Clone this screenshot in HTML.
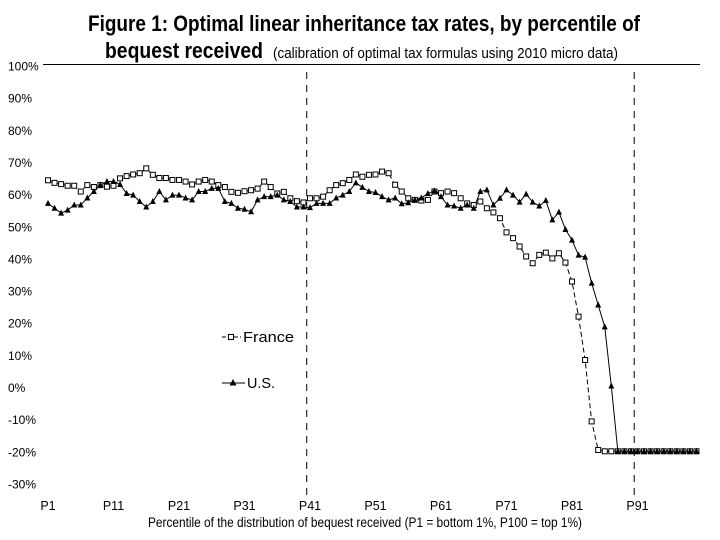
<!DOCTYPE html>
<html><head><meta charset="utf-8"><style>
html,body{margin:0;padding:0;background:#fff;}
svg{display:block;font-family:"Liberation Sans",Arial,sans-serif;}
</style></head><body>
<svg id="chart" width="720" height="540" viewBox="0 0 720 540" xmlns="http://www.w3.org/2000/svg">
<text x="88" y="31" font-size="22" font-weight="bold" textLength="552" lengthAdjust="spacingAndGlyphs">Figure 1: Optimal linear inheritance tax rates, by percentile of</text>
<text x="105" y="58" font-size="22" font-weight="bold" textLength="158" lengthAdjust="spacingAndGlyphs">bequest received</text>
<text x="273" y="58" font-size="15" textLength="345" lengthAdjust="spacingAndGlyphs">(calibration of optimal tax formulas using 2010 micro data)</text>
<line x1="43" y1="64.5" x2="700" y2="64.5" stroke="#000" stroke-width="1"/>
<g id="yticks"></g><g id="xticks"></g><g id="vlines"></g><g id="series"></g>
<text x="148" y="527" font-size="13.5" textLength="434" lengthAdjust="spacingAndGlyphs">Percentile of the distribution of bequest received (P1 = bottom 1%, P100 = top 1%)</text>
<g>
  <g>
    <line x1="222" y1="337" x2="241" y2="337" stroke="#000" stroke-dasharray="4,2"/>
    <rect x="228.5" y="334.5" width="5" height="5" fill="#fff" stroke="#000"/>
    <text x="243" y="342" font-size="15" textLength="51" lengthAdjust="spacingAndGlyphs">France</text>
  </g>
  <g>
    <line x1="222" y1="383" x2="245" y2="383" stroke="#000"/>
    <polygon points="233,379 236.5,385.5 229.5,385.5" fill="#000"/>
    <text x="247" y="388" font-size="15" textLength="28" lengthAdjust="spacingAndGlyphs">U.S.</text>
  </g>
</g>
</svg>
<script>
const yTicks=[100,90,80,70,60,50,40,30,20,10,0,-10,-20,-30];
const xTickLabels=["P1","P11","P21","P31","P41","P51","P61","P71","P81","P91"];
const xTickPercentiles=[1,11,21,31,41,51,61,71,81,91];
const dividerPercentiles=[40.5,90.5];
const france=[64.3,63.5,63.1,62.6,62.6,60.8,62.8,62.2,62.8,62.3,62.6,64.9,65.6,66.1,66.5,68,66,65,65,64.4,64.4,63.9,63,63.9,64.4,63.9,62.8,62.2,60.7,60.4,60.9,61.2,61.7,63.9,62.2,60.2,60.7,58.7,57.8,57.4,58.7,58.7,59.2,61.2,62.8,63.4,64.4,66.1,65.4,66,66.1,67,66.5,62.9,60.8,58.7,58.2,58,58.2,60.8,60.3,60.8,60.3,58.7,57.1,56.6,57.7,55.6,54.3,52.5,48.1,46.3,43.7,40.6,38.5,41.1,41.8,40,41.6,38.7,32.8,21.9,8.4,-10.7,-19.6,-20,-20,-20,-20,-20,-20,-20,-20,-20,-20,-20,-20,-20,-20,-20];
const us=[57.1,55.6,54.1,55,56.6,56.6,58.8,60.8,62.8,63.9,63.9,63,60.2,59.7,57.7,56,57.7,60.8,58.2,59.7,59.7,58.8,58.2,60.8,60.8,61.8,61.8,57.7,57.1,55.6,55.3,54.5,58.2,59.2,59.2,59.7,58.2,57.7,56,56,55.8,57.1,57.1,57.1,58.8,59.7,60.8,63.5,62.1,60.8,60.5,59.2,58.2,58.8,57,57.3,58.2,58.8,60.2,61,59.2,56.6,56.3,55.6,56.6,55.6,60.8,61.3,56.6,58.7,61.3,59.7,57.5,60,57.5,56.3,58,52,54.4,49,45.7,41,40.4,32.3,25.5,18.7,0.3,-20,-20,-20,-20,-20,-20,-20,-20,-20,-20,-20,-20,-20];
const NS="http://www.w3.org/2000/svg";
function y(v){return 387-v*3.215;}
function x(p){return 48+6.55*(p-1);}
function mk(tag,attrs,parent){const e=document.createElementNS(NS,tag);for(const k in attrs)e.setAttribute(k,attrs[k]);parent.appendChild(e);return e;}
const yg=document.getElementById('yticks');
yTicks.forEach(v=>{const t=mk('text',{x:8,y:y(v)+5,'font-size':12},yg);


t.textContent=v+'%';});
const xg=document.getElementById('xticks');
xTickLabels.forEach((l,i)=>{const t=mk('text',{x:x(xTickPercentiles[i]),y:510,'font-size':12.5,'text-anchor':'middle'},xg);


t.textContent=l;});
const vg=document.getElementById('vlines');
dividerPercentiles.forEach(p=>{const l=mk('line',{x1:x(p),y1:72,x2:x(p),y2:500,stroke:'#000','stroke-dasharray':'7,6'},vg);

});
const sg=document.getElementById('series');
const fpts=france.map((v,i)=>x(i+1)+','+y(v)).join(' ');
const fl=mk('polyline',{points:fpts,fill:'none',stroke:'#000','stroke-width':1,'stroke-dasharray':'5,3'},sg);


const upts=us.map((v,i)=>x(i+1)+','+y(v)).join(' ');
const ul=mk('polyline',{points:upts,fill:'none',stroke:'#000','stroke-width':1},sg);


france.forEach((v,i)=>{const r=mk('rect',{x:x(i+1)-2.5,y:y(v)-2.5,width:5,height:5,fill:'#fff',stroke:'#000','stroke-width':1},sg);

});
us.forEach((v,i)=>{const cx=x(i+1),cy=y(v);const p=mk('polygon',{points:`${cx},${cy-3.5} ${cx+3},${cy+2.5} ${cx-3},${cy+2.5}`,fill:'#000'},sg);

});
</script>
</body></html>
